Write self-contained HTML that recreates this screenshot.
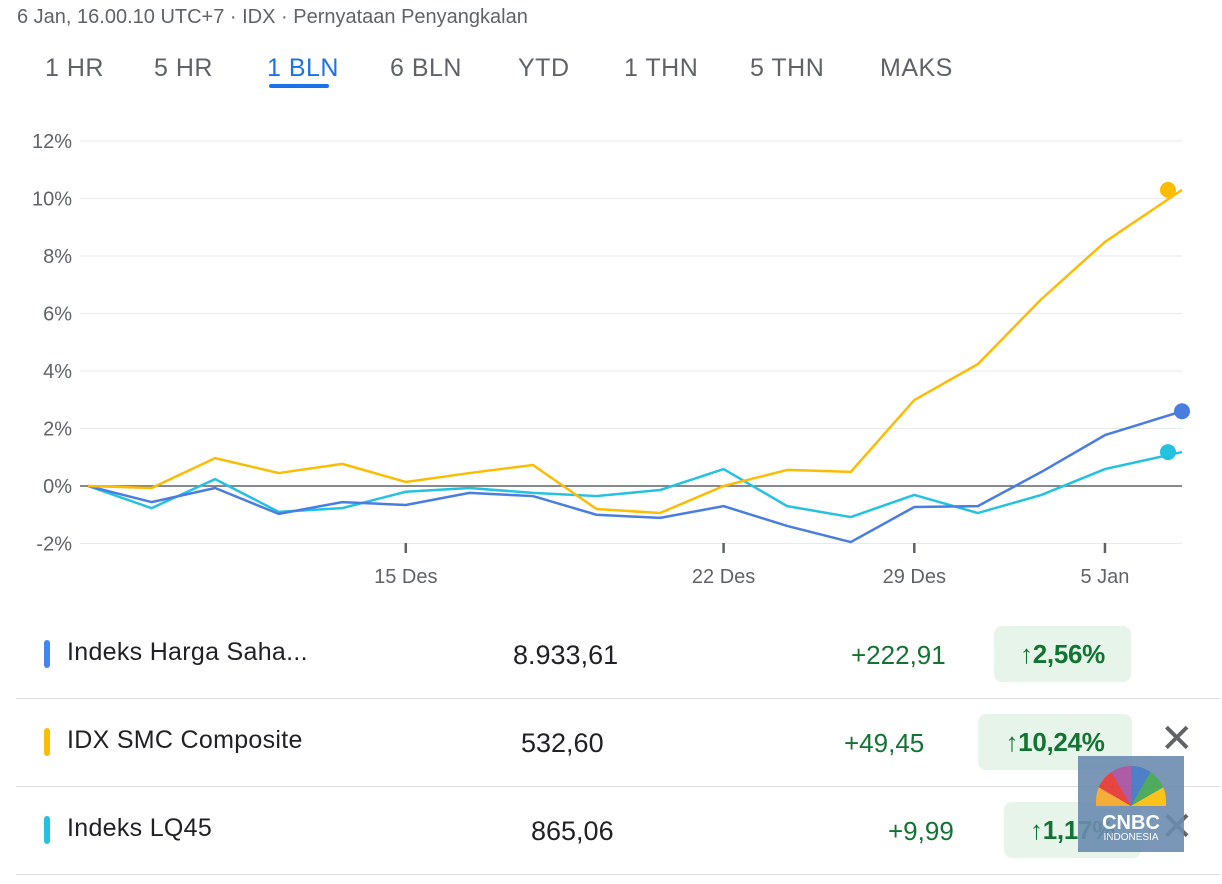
<!DOCTYPE html>
<html><head><meta charset="utf-8"><style>
body{margin:0;width:1222px;height:884px;background:#fff;font-family:"Liberation Sans",Arial,sans-serif;position:relative;overflow:hidden}
.a{position:absolute;white-space:nowrap}
.tab{position:absolute;top:54px;font-size:25px;color:#5f6368;letter-spacing:0.5px}
.row{position:absolute;left:16px;width:1204px;height:88px;border-bottom:1px solid #dadce0}
.name{position:absolute;left:51px;font-size:25px;color:#202124;letter-spacing:0.3px}
.bar{position:absolute;left:28px;width:6px;height:28px;border-radius:3px}
.val{position:absolute;font-size:27px;color:#202124}
.chg{position:absolute;font-size:26px;color:#137333}
.pill{position:absolute;height:56px;background:#e6f4ea;border-radius:8px;font-size:26px;color:#137333;line-height:56px;width:137px;text-align:center;font-weight:bold;letter-spacing:-0.3px}
.pill span{font-weight:normal}
.x{position:absolute;font-size:40px;color:#5f6368;font-weight:300}
</style></head><body>
<div class="a" style="left:17px;top:6px;font-size:20px;color:#5f6368">6 Jan, 16.00.10 UTC+7 · IDX · Pernyataan Penyangkalan</div>
<div class="tab" style="left:45px">1 HR</div>
<div class="tab" style="left:154px">5 HR</div>
<div class="tab" style="left:267px;color:#1a73e8">1 BLN</div>
<div class="a" style="left:269px;top:84px;width:60px;height:4px;background:#1a73e8;border-radius:2px"></div>
<div class="tab" style="left:390px">6 BLN</div>
<div class="tab" style="left:518px">YTD</div>
<div class="tab" style="left:624px">1 THN</div>
<div class="tab" style="left:750px">5 THN</div>
<div class="tab" style="left:880px">MAKS</div>
<svg id="chart" width="1222" height="600" style="position:absolute;left:0;top:0"></svg>
<div class="row" style="top:610px">
<div class="bar" style="top:30px;background:#4285f4"></div><div class="name" style="top:28px">Indeks Harga Saha...</div>
<div class="val" style="left:497px;top:30px">8.933,61</div><div class="chg" style="left:835px;top:30px">+222,91</div>
<div class="pill" style="left:978px;top:16px"><span>↑</span>2,56%</div></div>
<div class="row" style="top:698px">
<div class="bar" style="top:30px;background:#fbbc04"></div><div class="name" style="top:28px">IDX SMC Composite</div>
<div class="val" style="left:505px;top:30px">532,60</div><div class="chg" style="left:828px;top:30px">+49,45</div>
<div class="pill" style="left:962px;top:16px;width:154px"><span>↑</span>10,24%</div>
<div class="x" style="left:1144px;top:18px">✕</div></div>
<div class="row" style="top:786px">
<div class="bar" style="top:30px;background:#24c1e0"></div><div class="name" style="top:28px">Indeks LQ45</div>
<div class="val" style="left:515px;top:30px">865,06</div><div class="chg" style="left:872px;top:30px">+9,99</div>
<div class="pill" style="left:988px;top:16px"><span>↑</span>1,17%</div>
<div class="x" style="left:1144px;top:18px">✕</div></div>
<div class="a" style="left:1078px;top:756px;width:106px;height:96px;background:#6c8cb0;opacity:0.9">
<div style="position:absolute;left:18px;top:10px;width:70px;height:40px;border-radius:35px 35px 0 0;background:conic-gradient(from 270deg at 50% 100%,#f5a623 0 30deg,#e4332b 30deg 60deg,#a54b9d 60deg 90deg,#3a73c2 90deg 120deg,#3fa34d 120deg 150deg,#fbbc04 150deg 180deg,transparent 180deg)"></div>
<div style="position:absolute;left:0;width:106px;top:56px;text-align:center;color:#fff;font-weight:bold;font-size:20px">CNBC</div>
<div style="position:absolute;left:0;width:106px;top:76px;text-align:center;color:#fff;font-size:10px">INDONESIA</div></div>
<script>
const yTicks=[12,10,8,6,4,2,0,-2];
const yLabels=["12%","10%","8%","6%","4%","2%","0%","-2%"];
const xTickIdx=[5,10,13,16];
const xTickLabels=["15 Des","22 Des","29 Des","5 Jan"];
const smc=[0,-0.07,0.97,0.45,0.77,0.14,0.45,0.73,-0.8,-0.94,0,0.56,0.49,2.99,4.24,6.5,8.49,10.3];
const ihsg=[0,-0.56,-0.07,-0.97,-0.56,-0.66,-0.24,-0.35,-1.0,-1.11,-0.7,-1.39,-1.95,-0.73,-0.7,0.49,1.77,2.6];
const lq45=[0,-0.77,0.24,-0.9,-0.77,-0.2,-0.07,-0.24,-0.35,-0.14,0.59,-0.7,-1.08,-0.31,-0.94,-0.31,0.59,1.18];
const svg=document.getElementById('chart');const NS='http://www.w3.org/2000/svg';
const y=v=>486-v*28.75;
const x=i=>i<17?88+i*63.56:1182;
function mk(t,a){const e=document.createElementNS(NS,t);for(const k in a)e.setAttribute(k,a[k]);svg.appendChild(e);return e;}
yTicks.forEach((v,i)=>{
 const g=mk('line',{x1:80,x2:1182,y1:y(v),y2:y(v),stroke:v===0?'#5f6368':'#e8eaed','stroke-width':v===0?1.5:1});
 
 
 const t=mk('text',{x:72,y:y(v)+7,'text-anchor':'end','font-size':20,fill:'#5f6368','font-family':'Liberation Sans'});
 t.textContent=yLabels[i];
 
 
});
xTickIdx.forEach((idx,i)=>{
 const l=mk('line',{x1:x(idx),x2:x(idx),y1:543,y2:553,stroke:'#5f6368','stroke-width':2.5});
 
 
 const t=mk('text',{x:x(idx),y:583,'text-anchor':'middle','font-size':20,fill:'#5f6368','font-family':'Liberation Sans'});
 t.textContent=xTickLabels[i];
 
 
});
[[lq45,'#24c1e0','lq45-line',1168],[ihsg,'#4a7de0','ihsg-line',1182],[smc,'#fbbc04','smc-line',1168]].forEach(([d,c,n,dx])=>{
 const p=mk('polyline',{points:d.map((v,i)=>x(i)+','+y(v)).join(' '),fill:'none',stroke:c,'stroke-width':2.5,'stroke-linejoin':'round'});
 
 
 const dot=mk('circle',{cx:dx,cy:y(d[d.length-1]),r:8,fill:c});
 
 
});
</script>
</body></html>
